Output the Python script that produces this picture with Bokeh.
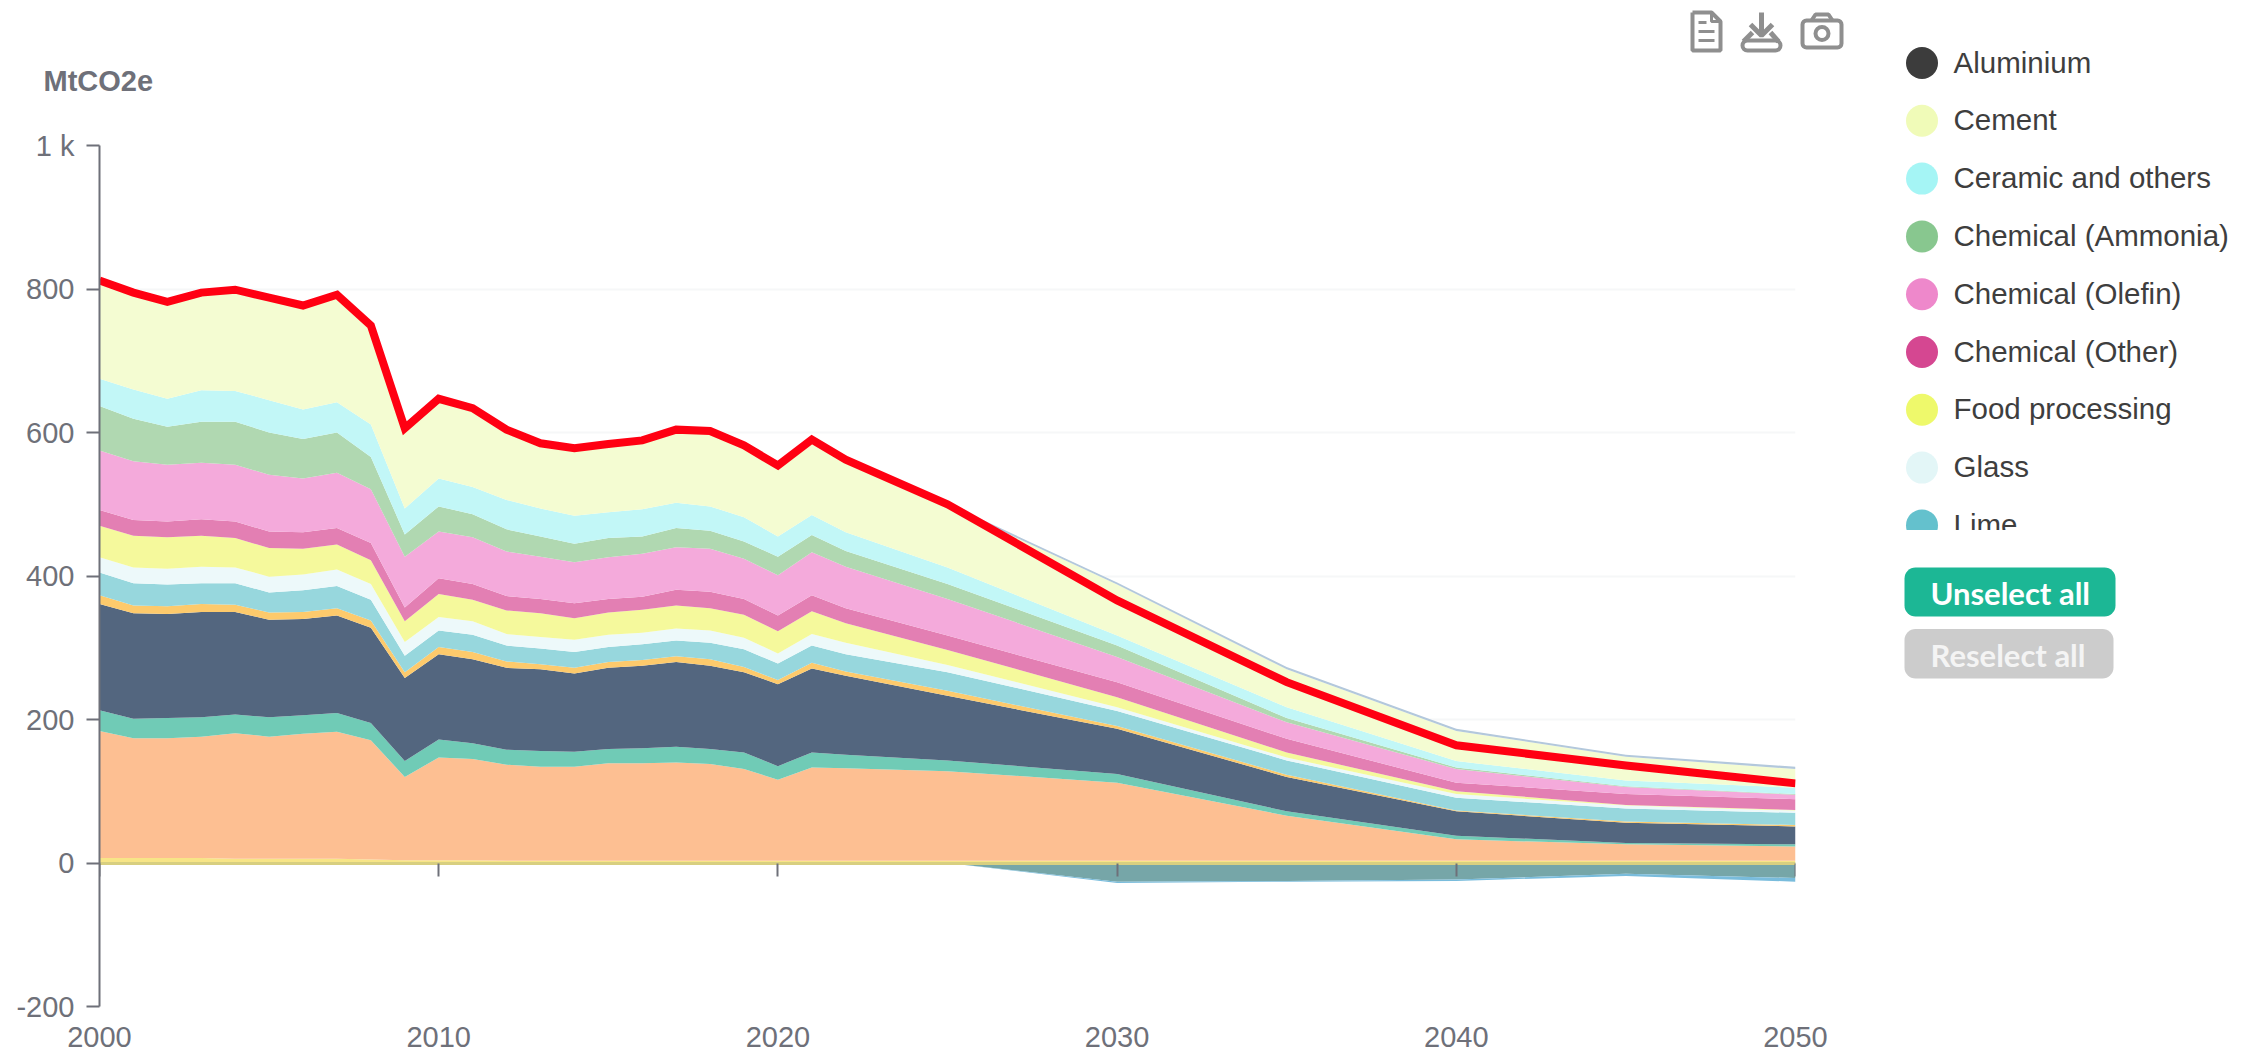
from bokeh.core.properties import value
from bokeh.embed import file_html
from bokeh.layouts import column, row
from bokeh.models import ColumnDataSource, FixedTicker, LinearAxis, Range1d
from bokeh.plotting import figure
from bokeh.resources import INLINE

# ---------- data (MtCO2e) ----------
years = [2000, 2001, 2002, 2003, 2004, 2005, 2006, 2007, 2008, 2009, 2010, 2011, 2012,
         2013, 2014, 2015, 2016, 2017, 2018, 2019, 2020, 2021, 2022, 2025, 2030, 2035,
         2040, 2045, 2050]

bottom_thin = [7, 7, 7, 7, 6, 6, 6, 6, 5, 4, 4, 4, 3, 3, 3, 3, 3, 3, 3, 3, 3, 3, 3, 3, 3, 3, 3, 3, 3]
orange_band = [177, 167, 167, 169, 175, 170, 174, 177, 166, 116, 143, 141, 134, 131, 131, 136, 136, 137, 135, 128, 113, 130, 129, 125, 109, 63, 30, 23, 20]
teal_band = [29, 27, 28, 27, 26, 27, 26, 26, 24, 22, 25, 22, 21, 22, 21, 20, 21, 22, 21, 23, 19, 21, 19, 15, 12, 6, 5, 2, 3]
navy_band = [148, 147, 145, 147, 143, 136, 134, 136, 133, 116, 119, 117, 114, 114, 109, 113, 115, 118, 116, 112, 114, 117, 110, 90, 63, 48, 34, 28, 25]
gold_band = [12, 11, 11, 11, 10, 10, 10, 10, 10, 8, 10, 10, 9, 7, 8, 8, 8, 8, 9, 7, 6, 8, 6, 7, 4, 3, 1, 2, 2]
lime = [32, 31, 30, 29, 30, 28, 30, 31, 29, 23, 23, 24, 22, 22, 22, 21, 22, 22, 23, 25, 23, 24, 24, 26, 21, 20, 18, 18, 17]
glass = [21, 22, 22, 23, 22, 22, 22, 23, 22, 19, 19, 19, 16, 16, 17, 17, 16, 17, 17, 16, 14, 16, 16, 10, 5, 4, 5, 4, 3]
food = [44, 44, 44, 43, 41, 40, 36, 35, 33, 29, 32, 30, 33, 33, 30, 31, 32, 32, 31, 32, 31, 32, 27, 21, 14, 7, 4, 1, 1]
chem_other = [22, 22, 22, 23, 23, 23, 23, 23, 24, 19, 22, 22, 20, 20, 21, 19, 18, 22, 23, 22, 22, 22, 21, 20, 21, 19, 12, 15, 15]
chem_olefin = [83, 82, 79, 79, 79, 79, 75, 77, 75, 71, 65, 65, 62, 59, 57, 58, 60, 59, 60, 56, 56, 60, 58, 51, 35, 23, 19, 10, 6]
chem_ammonia = [62, 59, 53, 57, 60, 59, 55, 56, 45, 31, 35, 32, 31, 28, 26, 27, 24, 27, 25, 24, 26, 24, 22, 21, 16, 6, 2, 1, 1]
ceramic = [38, 41, 39, 44, 43, 45, 41, 42, 45, 36, 39, 38, 41, 39, 39, 36, 38, 35, 34, 34, 28, 28, 26, 23, 14, 15, 9, 8, 9]
cement = [134, 132, 132, 133, 138, 140, 142, 147, 135, 110, 108, 107, 95, 88, 91, 92, 93, 99, 102, 98, 97, 103, 99, 86, 71, 53, 42, 33, 26]
aluminium = [3, 3, 3, 3, 3, 3, 3, 3, 3, 2, 3, 3, 3, 3, 3, 3, 3, 3, 3, 2, 2, 2, 2, 3, 3, 3, 3, 3, 3]

removal_teal = [0, 0, 0, 0, 0, 0, 0, 0, 0, 0, 0, 0, 0, 0, 0, 0, 0, 0, 0, 0, 0, 0, 0, 0, -26, -25, -23, -15, -21]
removal_blue = [0, 0, 0, 0, 0, 0, 0, 0, 0, 0, 0, 0, 0, 0, 0, 0, 0, 0, 0, 0, 0, 0, 0, 0, -2, -1, -2, -3, -5]

net_total = [812, 795, 782, 795, 799, 788, 777, 792, 749, 606, 647, 634, 604, 585, 578, 584, 589, 604, 602, 582, 554, 590, 562, 500, 366, 252, 164, 136, 111]

legend_names = ["Aluminium", "Cement", "Ceramic and others", "Chemical (Ammonia)", "Chemical (Olefin)",
                "Chemical (Other)", "Food processing", "Glass", "Lime"]
legend_colors = ["#3c3c3c", "#f0fbb8", "#a5f5f5", "#88c78f", "#ee88cb", "#d54791", "#eef96b", "#e3f6f7", "#64c1cd"]

y_ticks = [-200, 0, 200, 400, 600, 800, 1000]
x_ticks = [2000, 2010, 2020, 2030, 2040, 2050]
unit_label = ["MtCO2e"]

stack_names = ["bottom_thin", "orange_band", "teal_band", "navy_band", "gold_band", "lime", "glass", "food",
               "chem_other", "chem_olefin", "chem_ammonia", "ceramic", "cement", "aluminium"]
stack_colors = ["#f7e587", "#fdbf92", "#70cbb6", "#53667f", "#fdca6c", "#97d7dd", "#edf9fa", "#f5f99c",
                "#e37fb3", "#f4aadb", "#b0d8b1", "#c2f7f7", "#f4fcd2", "#b3c8dc"]

# ---------- styles ----------
GREY = "#6E7079"
FONT = "Liberation Sans"
PAGE_W = 2255
SPLIT_X = 1850
ICON_LEFT = 1680
TOP_H = 100
MAIN_H = 955

# ---------- main chart ----------
source = ColumnDataSource(dict(
    year=years, bottom_thin=bottom_thin, orange_band=orange_band, teal_band=teal_band, navy_band=navy_band,
    gold_band=gold_band, lime=lime, glass=glass, food=food, chem_other=chem_other, chem_olefin=chem_olefin,
    chem_ammonia=chem_ammonia, ceramic=ceramic, cement=cement, aluminium=aluminium,
    removal_teal=removal_teal, removal_blue=removal_blue, net_total=net_total))

p = figure(width=SPLIT_X, height=MAIN_H, output_backend="svg", toolbar_location=None,
           x_range=Range1d(2000, 2050), y_range=Range1d(-200, 1000),
           min_border_left=99, min_border_right=55, min_border_top=45, min_border_bottom=49,
           background_fill_color="white", border_fill_color="white", outline_line_color=None)

p.varea_stack(stack_names, x="year", color=stack_colors, source=source)
p.varea_stack(["removal_teal", "removal_blue"], x="year", color=["#76a6a8", "#79bcdc"], source=source)
p.line("year", "net_total", source=source, line_color="#ff0012", line_width=8, line_join="miter")

p.xgrid.visible = False
p.ygrid.ticker = FixedTicker(ticks=y_ticks)
p.ygrid.grid_line_color = "#f6f7f8"
p.ygrid.grid_line_width = 2

yaxis = p.yaxis[0]
yaxis.ticker = FixedTicker(ticks=y_ticks)
yaxis.major_label_overrides = {1000: "1 k", -200: "-200"}
yaxis.major_label_text_font = FONT
yaxis.major_label_text_font_size = "29px"
yaxis.major_label_text_color = GREY
yaxis.major_label_standoff = 12
yaxis.major_tick_in = 0
yaxis.major_tick_out = 13
yaxis.minor_tick_line_color = None
yaxis.major_tick_line_color = GREY
yaxis.major_tick_line_width = 2
yaxis.axis_line_color = GREY
yaxis.axis_line_width = 2

xaxis = p.xaxis[0]
xaxis.ticker = FixedTicker(ticks=x_ticks)
xaxis.formatter.use_scientific = False
xaxis.major_label_text_font = FONT
xaxis.major_label_text_font_size = "29px"
xaxis.major_label_text_color = GREY
xaxis.major_label_standoff = 14
xaxis.major_tick_line_color = None
xaxis.minor_tick_line_color = None
xaxis.axis_line_color = None

zero_axis = LinearAxis(ticker=FixedTicker(ticks=x_ticks), fixed_location=0,
                       major_label_overrides={t: "" for t in x_ticks},
                       major_tick_in=0, major_tick_out=13, minor_tick_line_color=None,
                       major_tick_line_color=GREY, major_tick_line_width=2,
                       axis_line_color="#d8cf80", axis_line_width=3)
p.add_layout(zero_axis, "below")


def page_figure(x0, x1, y0, y1):
    """A figure without axes whose data coordinates are page pixels."""
    f = figure(width=x1 - x0, height=y1 - y0, output_backend="svg", toolbar_location=None,
               x_range=Range1d(x0, x1), y_range=Range1d(y1, y0), x_axis_type=None, y_axis_type=None,
               min_border=0, min_border_left=0, min_border_right=0, min_border_top=0, min_border_bottom=0,
               outline_line_color=None, background_fill_color="white", border_fill_color="white")
    f.grid.visible = False
    return f


# ---------- unit label above the y axis ----------
unit_fig = page_figure(0, ICON_LEFT, 0, TOP_H)
unit_fig.text(x=[43], y=[80], text=unit_label, text_font=value(FONT), text_font_size="29px",
              text_font_style="bold", text_color=GREY, text_baseline="middle", text_align="left")

# ---------- toolbox icons ----------
icons = page_figure(ICON_LEFT, SPLIT_X, 0, TOP_H)
ICON = "#8f8f8f"
icons.line([1692, 1711, 1720, 1720, 1692, 1692], [12, 12, 21, 50, 50, 12], line_color=ICON, line_width=4)
icons.multi_line([[1711, 1711, 1720], [1698, 1706], [1698, 1714], [1698, 1714]],
                 [[12, 21, 21], [22, 22], [31, 31], [40, 40]], line_color=ICON, line_width=3)
icons.multi_line([[1761, 1761], [1750, 1761, 1772], [1752, 1743], [1770, 1778]],
                 [[12, 33], [24, 35, 24], [32, 41], [32, 41]], line_color=ICON, line_width=5)
icons.quad(left=1742, right=1780, top=40, bottom=50, fill_color=None, line_color=ICON, line_width=4, border_radius=5)
icons.quad(left=1802, right=1841, top=20, bottom=47, fill_color=None, line_color=ICON, line_width=4, border_radius=4)
icons.line([1811, 1815, 1828, 1832], [20, 14, 14, 20], line_color=ICON, line_width=4)
icons.circle(x=[1821.5], y=[33], radius=6.5, fill_color=None, line_color=ICON, line_width=4)

top_row = row(unit_fig, icons, spacing=0)

# ---------- legend, cut off at its lower edge as in the reference ----------
legend = page_figure(SPLIT_X, PAGE_W, 0, 530)
row_y = [62.5 + 57.8 * i for i in range(len(legend_names))]
legend.circle(x=[1921.5] * len(row_y), y=row_y, radius=16, fill_color=legend_colors, line_color=None)
legend.text(x=[1953] * len(row_y), y=[v - 1 for v in row_y], text=legend_names, text_font=value(FONT),
            text_font_size="29.5px", text_color="#3e3e3e", text_baseline="middle", text_align="left")

# ---------- buttons ----------
buttons = page_figure(SPLIT_X, PAGE_W, 530, 700)
buttons.quad(left=1904, right=2115, top=567, bottom=616, fill_color="#1cb795", line_color=None, border_radius=11)
buttons.quad(left=1904, right=2113, top=628.5, bottom=678, fill_color="#cccccc", line_color=None, border_radius=11)
buttons.text(x=[1930, 1930], y=[592, 654], text=["Unselect all", "Reselect all"], text_font=value("Lato"),
             text_font_size="31px", text_font_style="bold", text_color=["white", "#f4f4f4"],
             text_baseline="middle", text_align="left")

page = row(column(top_row, p, spacing=0), column(legend, buttons, spacing=0), spacing=0)
open("out.html", "w").write(file_html(page, INLINE))
